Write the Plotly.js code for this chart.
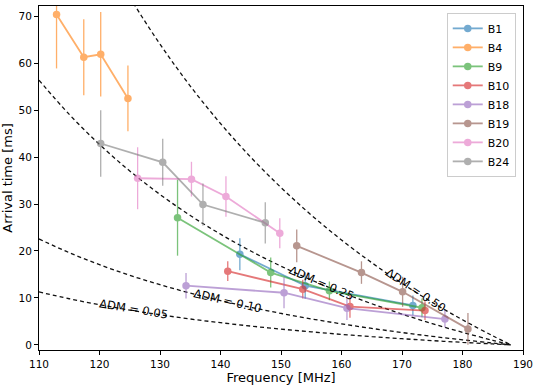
<!DOCTYPE html>
<html>
<head>
<meta charset="utf-8">
<script src="https://cdn.plot.ly/plotly-3.0.1.min.js"></script>
<style>
  html, body { margin: 0; padding: 0; background: #fff; }
  #chart { width: 540px; height: 386px; }
</style>
</head>
<body>
<div id="chart"></div>
<script>
(function () {
    'use strict';

    // burst names and colours (matplotlib tab10)
    var names = ['B1', 'B4', 'B9', 'B10', 'B18', 'B19', 'B20', 'B24'];
    var colors = ['#1f77b4', '#ff7f0e', '#2ca02c', '#d62728', '#9467bd', '#8c564b', '#e377c2', '#7f7f7f'];

    // frequency [MHz], arrival time [ms], error [ms]
    var b1_f = [143.2, 154.0, 171.8];
    var b1_t = [19.3, 12.6, 8.4];
    var b1_e = [3.4, 2.8, 2.1];

    var b4_f = [112.9, 117.4, 120.2, 124.7];
    var b4_t = [70.4, 61.3, 61.9, 52.5];
    var b4_e = [11.5, 8.1, 9.0, 7.0];

    var b9_f = [132.9, 148.3, 158.0, 173.3];
    var b9_t = [27.1, 15.4, 11.5, 7.9];
    var b9_e = [8.1, 3.2, 2.0, 2.0];

    var b10_f = [141.2, 153.6, 161.4, 173.8];
    var b10_t = [15.7, 11.85, 8.15, 7.3];
    var b10_e = [2.1, 2.0, 2.4, 2.0];

    var b18_f = [134.3, 150.5, 160.9, 177.1];
    var b18_t = [12.6, 11.1, 7.8, 5.5];
    var b18_e = [2.7, 3.3, 2.5, 1.8];

    var b19_f = [152.6, 163.3, 170.1, 180.9];
    var b19_t = [21.1, 15.4, 11.3, 3.4];
    var b19_e = [3.5, 2.4, 3.2, 3.4];

    var b20_f = [126.3, 135.2, 140.9, 149.8];
    var b20_t = [35.5, 35.3, 31.6, 23.8];
    var b20_e = [6.6, 3.7, 4.3, 3.2];

    var b24_f = [120.2, 130.45, 137.1, 147.4];
    var b24_t = [42.9, 38.9, 29.9, 26.0];
    var b24_e = [7.1, 5.0, 4.5, 4.4];

    // dashed delta-DM curves, read along the frequency grid
    var curve_f = [110, 115, 120, 125, 130, 135, 140, 145, 150, 155, 160, 165, 170, 175, 180, 185, 188];
    var dm005_t = [11.28, 9.82, 8.54, 7.41, 6.41, 5.51, 4.72, 4.00, 3.35, 2.77, 2.23, 1.75, 1.31, 0.90, 0.53, 0.19, 0];
    var dm010_t = [22.56, 19.64, 17.08, 14.82, 12.82, 11.03, 9.43, 8.00, 6.70, 5.53, 4.47, 3.50, 2.62, 1.81, 1.07, 0.38, 0];
    var dm025_t = [56.39, 49.10, 42.70, 37.05, 32.04, 27.57, 23.58, 19.99, 16.76, 13.83, 11.17, 8.76, 6.55, 4.52, 2.67, 0.96, 0];
    var dm050_t = [112.78, 98.19, 85.39, 74.09, 64.08, 55.15, 47.16, 39.99, 33.52, 27.66, 22.35, 17.51, 13.09, 9.05, 5.34, 1.92, 0];

    // curve labels: text, position, angle
    var label_text = ['ΔDM = 0.05', 'ΔDM = 0.10', 'ΔDM = 0.25', 'ΔDM = 0.50'];
    var label_f = [125.7, 141.2, 156.7, 172.2];
    var label_t = [7.6, 9.3, 13.2, 11.6];
    var label_angle = [9.5, 13, 23.5, 33.5];

    var freqs = [b1_f, b4_f, b9_f, b10_f, b18_f, b19_f, b20_f, b24_f];
    var times = [b1_t, b4_t, b9_t, b10_t, b18_t, b19_t, b20_t, b24_t];
    var errs = [b1_e, b4_e, b9_e, b10_e, b18_e, b19_e, b20_e, b24_e];

    var data = [];

    [dm005_t, dm010_t, dm025_t, dm050_t].forEach(function (t) {
        data.push({
            x: curve_f,
            y: t,
            mode: 'lines',
            line: { color: '#111', width: 1.3, dash: '4px,3px', shape: 'spline' },
            hoverinfo: 'skip',
            showlegend: false
        });
    });

    names.forEach(function (name, i) {
        data.push({
            x: freqs[i],
            y: times[i],
            name: name,
            mode: 'lines+markers',
            opacity: 0.62,
            marker: { color: colors[i], size: 7.5 },
            line: { color: colors[i], width: 1.8 },
            error_y: {
                type: 'data',
                array: errs[i],
                visible: true,
                color: colors[i],
                thickness: 1.3,
                width: 0
            }
        });
    });

    var annotations = label_text.map(function (txt, i) {
        return {
            x: label_f[i],
            y: label_t[i],
            text: txt,
            showarrow: false,
            textangle: label_angle[i],
            font: { family: 'DejaVu Sans', size: 11.5, color: '#000' }
        };
    });

    var axisStyle = {
        showgrid: false,
        zeroline: false,
        showline: true,
        mirror: true,
        linecolor: '#000',
        linewidth: 1,
        ticks: 'outside',
        ticklen: 4,
        tickwidth: 1,
        tickcolor: '#000',
        tickfont: { family: 'DejaVu Sans', size: 10.5, color: '#000' }
    };

    var layout = {
        width: 540,
        height: 386,
        margin: { l: 39, r: 17, t: 6, b: 36, pad: 0 },
        paper_bgcolor: '#fff',
        plot_bgcolor: '#fff',
        font: { family: 'DejaVu Sans', color: '#000' },
        xaxis: Object.assign({}, axisStyle, {
            range: [110, 190],
            tickvals: [110, 120, 130, 140, 150, 160, 170, 180, 190],
            title: { text: 'Frequency [MHz]', font: { size: 13 }, standoff: 4 }
        }),
        yaxis: Object.assign({}, axisStyle, {
            range: [-1.1, 72.2],
            tickvals: [0, 10, 20, 30, 40, 50, 60, 70],
            title: { text: 'Arrival time [ms]', font: { size: 13 }, standoff: 8 }
        }),
        legend: {
            x: 0.985,
            y: 0.98,
            xanchor: 'right',
            yanchor: 'top',
            bgcolor: 'rgba(255,255,255,0.8)',
            bordercolor: '#ccc',
            borderwidth: 1,
            font: { family: 'DejaVu Sans', size: 11 },
            tracegroupgap: 0
        },
        annotations: annotations,
        showlegend: true
    };

    Plotly.newPlot('chart', data, layout, { staticPlot: true });
})();
</script>
</body>
</html>
